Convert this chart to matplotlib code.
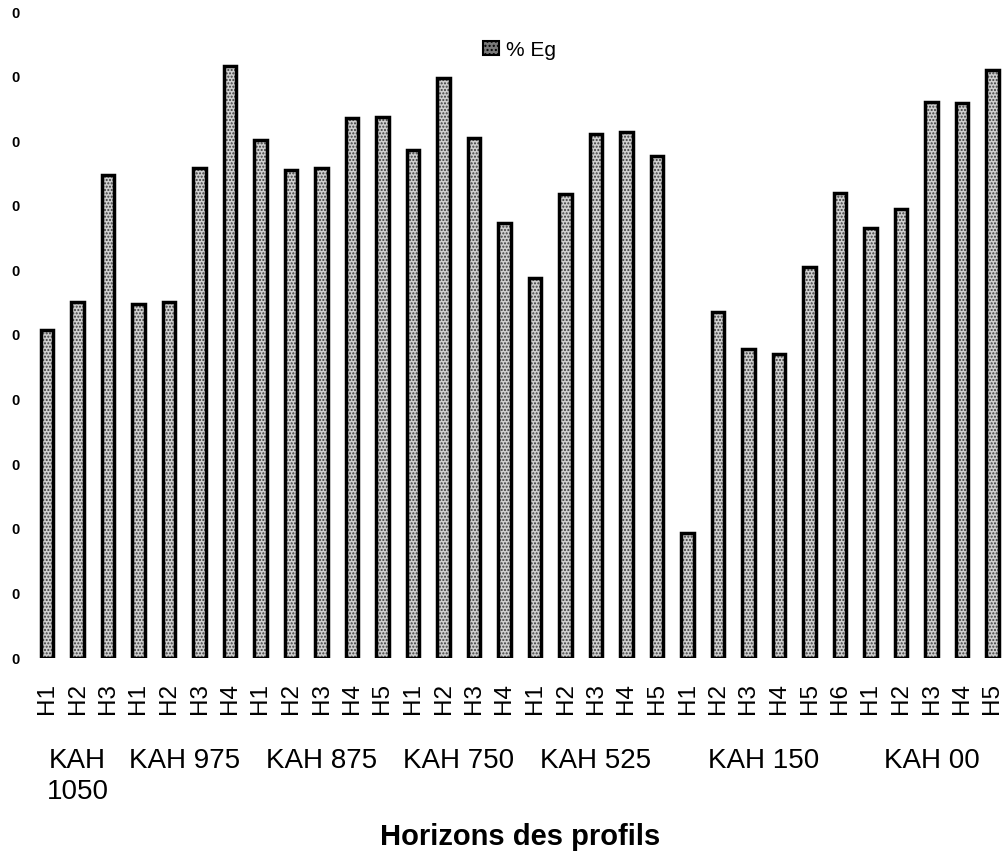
import matplotlib
matplotlib.use("Agg")
import matplotlib.pyplot as plt
from matplotlib.patches import Patch
from matplotlib.transforms import blended_transform_factory
import numpy as np

plt.rcParams['font.family'] = ['Liberation Sans', 'DejaVu Sans']
plt.rcParams['hatch.linewidth'] = 1.0

# ---- data ----
profiles = ["KAH\n1050", "KAH 975", "KAH 875", "KAH 750", "KAH 525", "KAH 150", "KAH 00"]
horizons = [
    ["H1", "H2", "H3"],
    ["H1", "H2", "H3", "H4"],
    ["H1", "H2", "H3", "H4", "H5"],
    ["H1", "H2", "H3", "H4"],
    ["H1", "H2", "H3", "H4", "H5"],
    ["H1", "H2", "H3", "H4", "H5", "H6"],
    ["H1", "H2", "H3", "H4", "H5"],
]
eg_values = [
    [50.8, 55.1, 74.8],
    [54.8, 55.1, 75.9, 91.6],
    [80.2, 75.5, 75.9, 83.6, 83.7],
    [78.6, 89.8, 80.5, 67.3],
    [58.8, 71.8, 81.1, 81.4, 77.7],
    [19.3, 53.6, 47.8, 47.1, 60.5, 72.0],
    [66.6, 69.5, 86.1, 85.9, 91.0],
]
yticks = [0, 10, 20, 30, 40, 50, 60, 70, 80, 90, 100]
series_label = "% Eg"
xlabel = "Horizons des profils"

# ---- flatten ----
labels = [h for grp in horizons for h in grp]
values = [v for grp in eg_values for v in grp]
x = np.arange(len(values))

fig = plt.figure(figsize=(10.08, 8.56), dpi=100)
ax = fig.add_axes([31.75 / 1008, 198 / 856, 976 / 1008, 646 / 856])

bw = 0.40
ax.bar(x, values, width=bw, facecolor='#d0d0d0', edgecolor='#3c3c3c',
       hatch='.....', linewidth=0, zorder=2)
ax.bar(x, values, width=bw, fill=False, edgecolor='black', linewidth=2.5, zorder=3)

ax.set_xlim(-0.5, len(values) - 0.5)
ax.set_ylim(0, 100)
for s in ax.spines.values():
    s.set_visible(False)

ax.set_yticks(yticks)
ax.set_yticklabels([str(t)[-1] for t in yticks], fontsize=10.5, fontweight='bold')
ax.tick_params(axis='y', length=0, pad=9)

ax.set_xticks(x)
ax.set_xticklabels(labels, rotation=90, fontsize=17.5, va='top')
ax.tick_params(axis='x', length=0, pad=18)

# group labels
trans = blended_transform_factory(ax.transData, ax.transAxes)
start = 0
for name, grp in zip(profiles, horizons):
    center = start + (len(grp) - 1) / 2
    ax.text(center, -0.139, name, transform=trans, ha='center', va='top',
            fontsize=20, linespacing=1.25, multialignment='center')
    start += len(grp)

fig.text(520 / 1008, (856 - 845) / 856, xlabel, ha='center', va='baseline',
         fontsize=21, fontweight='bold')

handle = Patch(facecolor='#7a7a7a', edgecolor='black', hatch='....', linewidth=1.5)
ax.legend([handle], [series_label], loc='center', bbox_to_anchor=(0.5, 0.941),
          frameon=False, fontsize=15, handlelength=0.75, handleheight=0.65,
          handletextpad=0.35)

fig.savefig("out.png", dpi=100)
